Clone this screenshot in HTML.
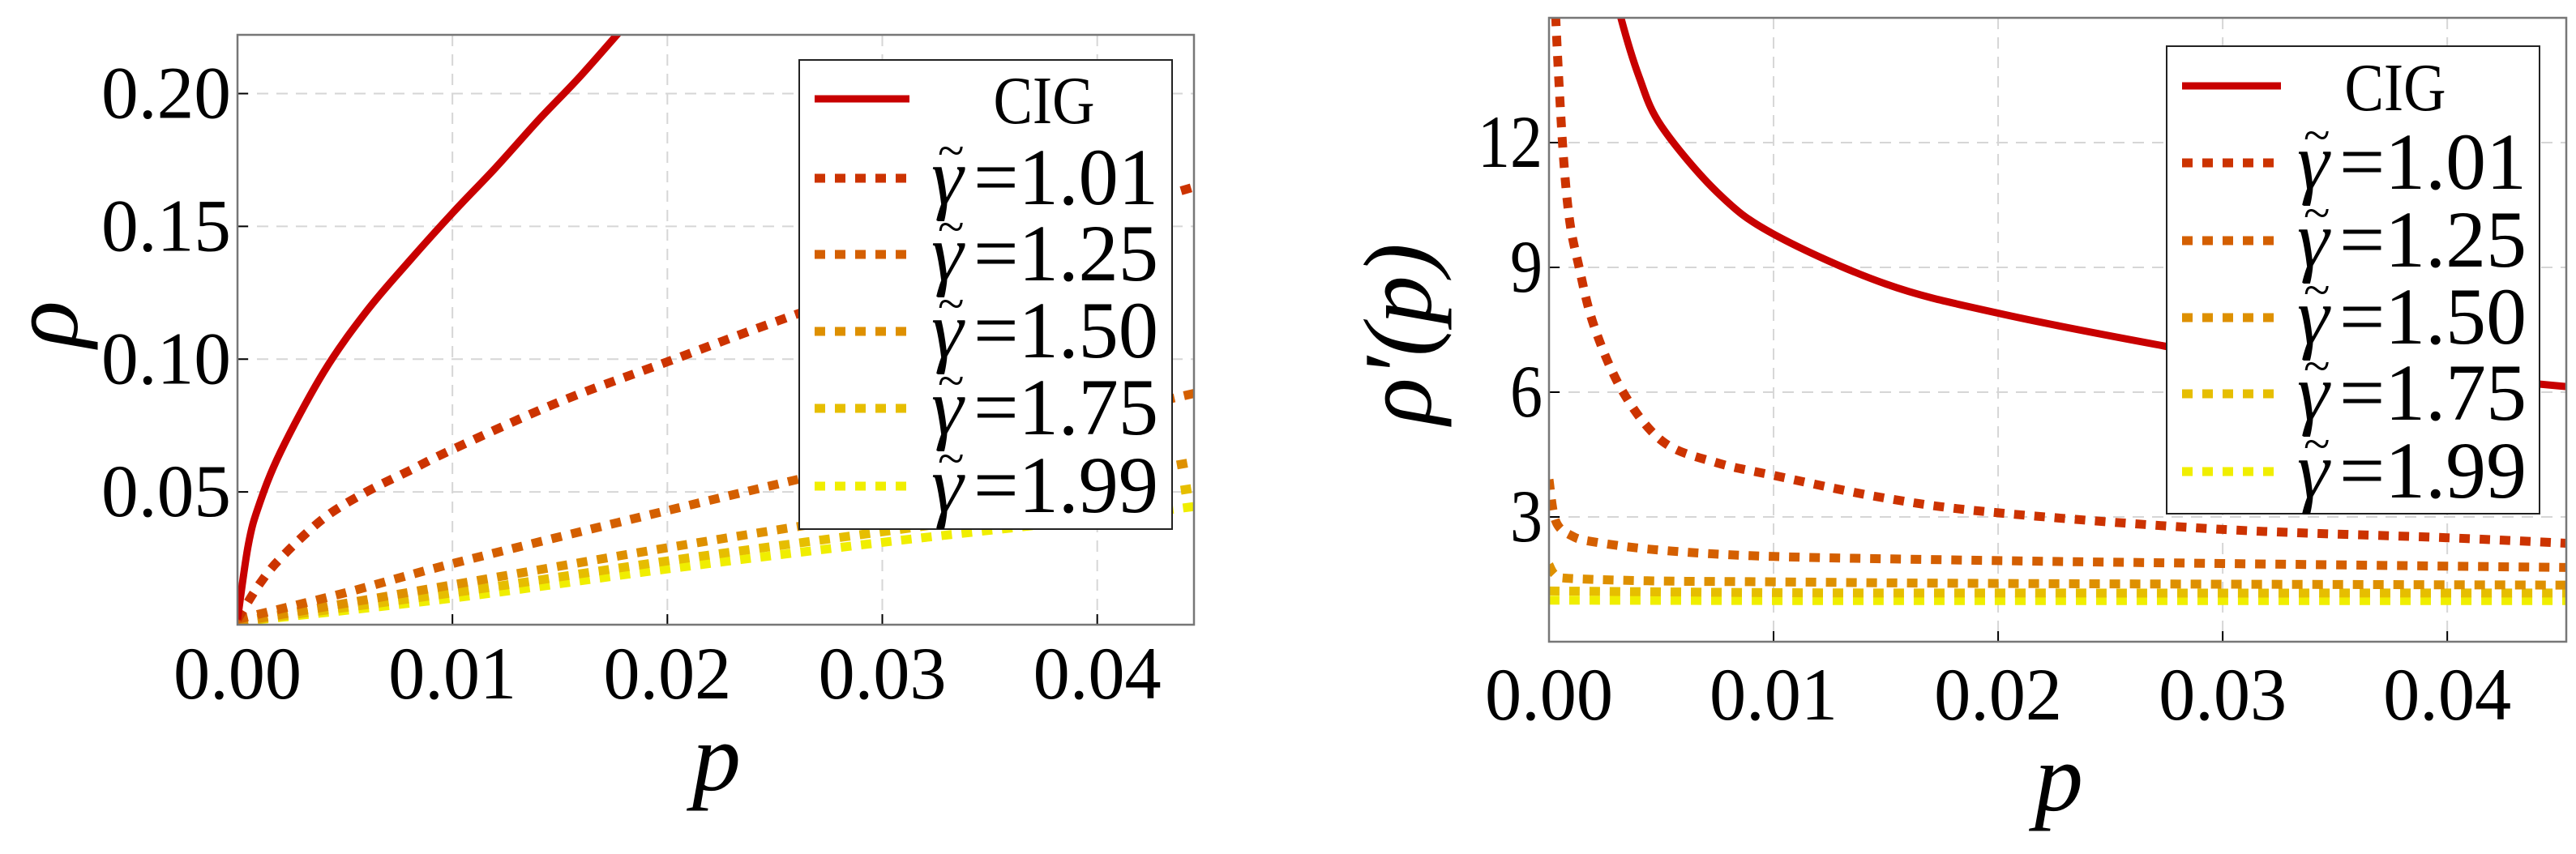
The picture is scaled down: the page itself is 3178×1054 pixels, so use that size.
<!DOCTYPE html>
<html><head><meta charset="utf-8"><style>
html,body{margin:0;padding:0;background:#fff;}
svg{display:block;}
text{font-family:"Liberation Serif","Noto Serif CJK SC","DejaVu Serif",serif;}
</style></head><body>
<svg id="fig" width="3178" height="1054" viewBox="0 0 3178 1054" xmlns="http://www.w3.org/2000/svg">
<defs>
<clipPath id="clipL"><rect x="293" y="43" width="1180" height="728"/></clipPath>
<clipPath id="clipR"><rect x="1911" y="22" width="1255" height="770"/></clipPath>
</defs>
<g id="left"></g>
<g id="right"></g>
</svg>
<script>
const NS="http://www.w3.org/2000/svg";
const seriesNames=["CIG","1.01","1.25","1.50","1.75","1.99"];
const seriesColors=["#c80000","#cc3300","#d45f00","#de9000","#e6be00","#f0ee00"];
const xTicks=[0,0.01,0.02,0.03,0.04];
const xTickLabels=["0.00","0.01","0.02","0.03","0.04"];
const leftYTicks=[0.05,0.10,0.15,0.20];
const leftYTickLabels=["0.05","0.10","0.15","0.20"];
const rightYTicks=[3,6,9,12];
const rightYTickLabels=["3","6","9","12"];
// left chart rho(p)
const lP0=[0,0.0005,0.001,0.002,0.004,0.006,0.008,0.01,0.012,0.014,0.016,0.0185];
const lV0=[0.002,0.03,0.045,0.065,0.095,0.118,0.137,0.155,0.172,0.19,0.207,0.23];
const lP1=[0,0.001,0.002,0.004,0.006,0.008,0.01,0.015,0.02,0.025,0.03,0.035,0.04,0.045];
const lV1=[0.002,0.015,0.025,0.04,0.05,0.058,0.066,0.084,0.099,0.114,0.128,0.141,0.154,0.166];
const lP2=[0,0.005,0.01,0.02,0.03,0.04,0.045];
const lV2=[0.002,0.012,0.023,0.043,0.062,0.079,0.088];
const lP3=[0,0.01,0.02,0.03,0.04,0.045];
const lV3=[0.001,0.015,0.029,0.042,0.055,0.062];
const lP4=[0,0.01,0.02,0.03,0.04,0.045];
const lV4=[0.001,0.012,0.024,0.035,0.046,0.052];
const lP5=[0,0.01,0.02,0.03,0.04,0.045];
const lV5=[0.001,0.010,0.021,0.031,0.040,0.045];
// right chart rho'(p)
const rP0=[0.0028,0.0032,0.004,0.005,0.0075,0.01,0.015,0.02,0.027,0.03,0.04,0.046];
const rV0=[16,15,13.6,12.4,10.8,9.8,8.6,7.9,7.15,6.9,6.4,6.1];
const rP1=[0.0002,0.0003,0.0006,0.0009,0.0013,0.002,0.0033,0.0051,0.0075,0.01,0.015,0.02,0.03,0.04,0.046];
const rV1=[17,15,12,10.2,9.1,7.6,6.0,4.8,4.3,4.0,3.45,3.1,2.7,2.5,2.35];
const rP2=[0,0.0003,0.001,0.002,0.005,0.01,0.02,0.03,0.046];
const rV2=[3.9,2.9,2.55,2.4,2.2,2.05,1.95,1.88,1.78];
const rP3=[0,0.0003,0.001,0.005,0.01,0.02,0.046];
const rV3=[1.85,1.6,1.52,1.46,1.44,1.4,1.36];
const rP4=[0,0.01,0.02,0.046];
const rV4=[1.22,1.18,1.17,1.17];
const rP5=[0,0.01,0.02,0.046];
const rV5=[1.0,0.99,0.99,0.99];

const leftXs=[lP0,lP1,lP2,lP3,lP4,lP5], leftYs=[lV0,lV1,lV2,lV3,lV4,lV5];
const rightXs=[rP0,rP1,rP2,rP3,rP4,rP5], rightYs=[rV0,rV1,rV2,rV3,rV4,rV5];
const FF="'Liberation Serif','Noto Serif CJK SC','DejaVu Serif',serif";

function el(tag,attrs,parent){const e=document.createElementNS(NS,tag);for(const k in attrs)e.setAttribute(k,attrs[k]);if(tag==="text")e.style.fontFamily=FF;parent.appendChild(e);return e;}
function smooth(pts){let d="M"+pts[0][0].toFixed(1)+","+pts[0][1].toFixed(1);
 for(let i=0;i<pts.length-1;i++){const p0=pts[Math.max(0,i-1)],p1=pts[i],p2=pts[i+1],p3=pts[Math.min(pts.length-1,i+2)];
  const c1=[p1[0]+(p2[0]-p0[0])/6,p1[1]+(p2[1]-p0[1])/6],c2=[p2[0]-(p3[0]-p1[0])/6,p2[1]-(p3[1]-p1[1])/6];
  d+=" C"+c1[0].toFixed(1)+","+c1[1].toFixed(1)+" "+c2[0].toFixed(1)+","+c2[1].toFixed(1)+" "+p2[0].toFixed(1)+","+p2[1].toFixed(1);}
 return d;}

function chart(g,cfg){
 const xS=v=>cfg.x0+(v-cfg.xmin)/(cfg.xmax-cfg.xmin)*(cfg.x1-cfg.x0);
 const yS=v=>cfg.y1-(v-cfg.ymin)/(cfg.ymax-cfg.ymin)*(cfg.y1-cfg.y0);
 const grid=el("g",{},g);
 
 
 xTicks.forEach((t,i)=>{const x=xS(t);
  if(i>0){el("line",{x1:x,x2:x,y1:cfg.y0,y2:cfg.y1,stroke:"#d6d6d6","stroke-width":2,"stroke-dasharray":"14,10"},grid);}
  const tk=el("line",{x1:x,x2:x,y1:cfg.y1,y2:cfg.y1-13,stroke:"#000","stroke-width":2},g);
  
  
  const tx=el("text",{x:x,y:cfg.xLabY,"font-size":92,"text-anchor":"middle",textLength:158,lengthAdjust:"spacingAndGlyphs"},g);
  tx.textContent=xTickLabels[i];
  
  
 });
 cfg.yT.forEach((t,i)=>{const y=yS(t);
  el("line",{x1:cfg.x0,x2:cfg.x1,y1:y,y2:y,stroke:"#d6d6d6","stroke-width":2,"stroke-dasharray":"14,10"},grid);
  const tk=el("line",{x1:cfg.x0,x2:cfg.x0+13,y1:y,y2:y,stroke:"#000","stroke-width":2},g);
  
  
  const lab=cfg.yTL[i];
  const tx=el("text",{x:cfg.yLabX,y:y+30,"font-size":92,"text-anchor":"end",textLength:lab.length*40,lengthAdjust:"spacingAndGlyphs"},g);
  tx.textContent=lab;
  
  
 });
 const lines=el("g",{"clip-path":"url(#"+cfg.clip+")"},g);
 for(let s=cfg.xs.length-1;s>=0;s--){
  const pts=cfg.xs[s].map((p,i)=>[xS(p),yS(cfg.ys[s][i])]);
  const a={d:smooth(pts),fill:"none",stroke:seriesColors[s],"stroke-width":s==0?9:11};
  if(s>0)a["stroke-dasharray"]="13,12";
  const path=el("path",a,lines);
  
  
 }
 const fr=el("rect",{x:cfg.x0,y:cfg.y0,width:cfg.x1-cfg.x0,height:cfg.y1-cfg.y0,fill:"none",stroke:"#777","stroke-width":2.5},g);
 
 
 const L=cfg.leg;
 const lg=el("g",{},g);
 
 
 el("rect",{x:L.x,y:L.y,width:L.w,height:L.h,fill:"#fff",stroke:"#222","stroke-width":2},lg);
 seriesNames.forEach((n,s)=>{const y=L.rows[s];
  const a={x1:L.sx0,x2:L.sx1,y1:y,y2:y,stroke:seriesColors[s],"stroke-width":s==0?9:11};
  if(s>0)a["stroke-dasharray"]="13,12";
  const ln=el("line",a,lg);
  
  
  if(s==0){const t=el("text",{x:L.cigX,y:y+30,"font-size":84,"text-anchor":"middle",textLength:125,lengthAdjust:"spacingAndGlyphs"},lg);t.textContent="CIG";
   
   }
  else{
   const g1=el("text",{x:L.tx,y:y+32,"font-size":100,"font-style":"italic"},lg);g1.textContent="γ";
   
   
   const tl=el("text",{x:L.tx+8,y:y-14,"font-size":60},lg);tl.textContent="~";
   
   
   const t=el("text",{x:L.tx+52,y:y+32,"font-size":100,textLength:L.tw-52,lengthAdjust:"spacingAndGlyphs"},lg);
   t.textContent="="+n;
   
   }
 });
 const xl=el("text",{x:cfg.xTitleX,y:cfg.xTitleY,"font-size":120,"font-style":"italic","text-anchor":"middle"},g);
 xl.textContent="p";
 
 
 const yl=el("text",{x:0,y:0,"font-size":cfg.yTitleSize,"font-style":"italic","text-anchor":"middle",transform:"translate("+cfg.yTitleX+","+cfg.yTitleY+") rotate(-90)"},g);
 yl.textContent=cfg.yTitle;
 
 
}
chart(document.getElementById("left"),{x0:293,x1:1473,y0:43,y1:771,xmin:0,xmax:0.0445,ymin:0,ymax:(776-43)/3300,
 clip:"clipL",xs:leftXs,ys:leftYs,yT:leftYTicks,yTL:leftYTickLabels,xLabY:862,yLabX:285,
 leg:{x:986,y:74,w:460,h:579,rows:[122,220,314,409,504,600],sx0:1005,sx1:1122,cigX:1288,tx:1149,tw:280},
 xTitleX:884,xTitleY:975,yTitleX:95,yTitleY:400,yTitle:"ρ",yTitleSize:120});
chart(document.getElementById("right"),{x0:1911,x1:3166,y0:22,y1:792,xmin:0,xmax:0.0453,ymin:0,ymax:15,
 clip:"clipR",xs:rightXs,ys:rightYs,yT:rightYTicks,yTL:rightYTickLabels,xLabY:888,yLabX:1903,
 leg:{x:2673,y:57,w:460,h:577,rows:[106,201,297,392,486,582],sx0:2692,sx1:2814,cigX:2955,tx:2834,tw:283},
 xTitleX:2540,xTitleY:1000,yTitleX:1765,yTitleY:412,yTitle:"ρ′(p)",yTitleSize:120});
</script>
</body></html>
